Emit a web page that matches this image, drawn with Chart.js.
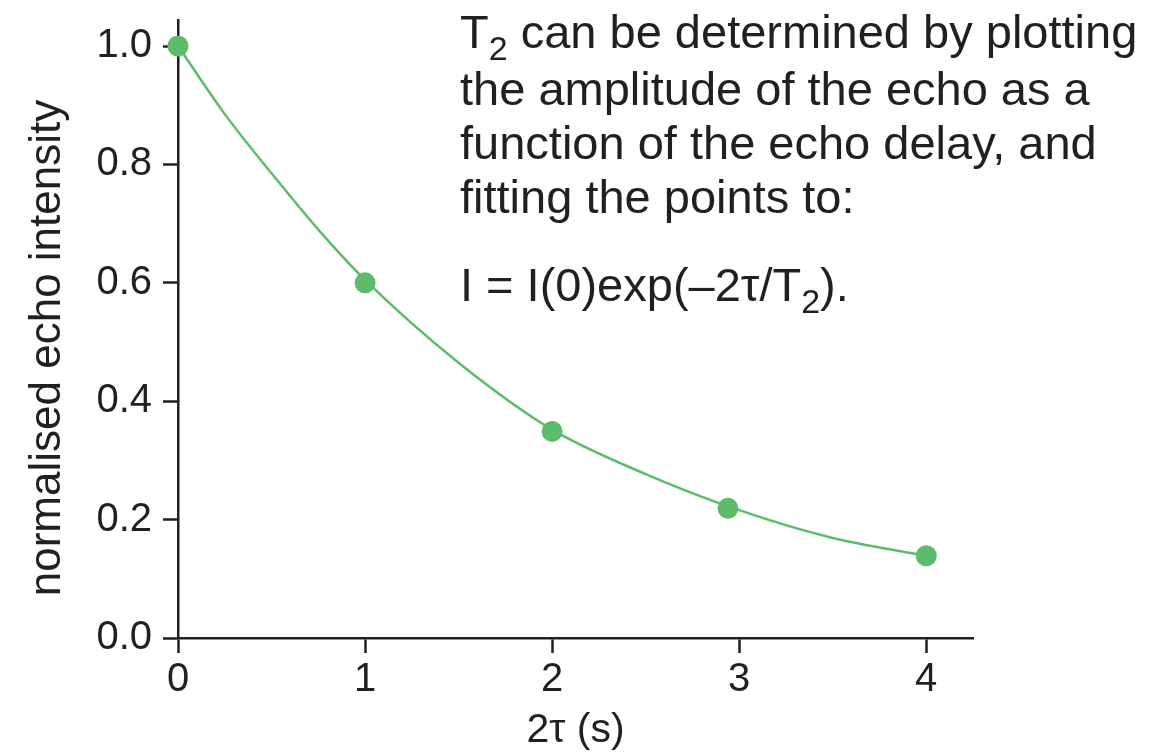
<!DOCTYPE html>
<html>
<head>
<meta charset="utf-8">
<script src="https://cdn.jsdelivr.net/npm/chart.js@4"></script>
<style>
  html, body { margin: 0; padding: 0; background: #ffffff; }
  #wrap { width: 1164px; height: 755px; position: relative; }
</style>
</head>
<body>
<div id="wrap"><canvas id="c" width="1164" height="755"></canvas></div>
<script>
// Measured echo points
const echoDelay = [0, 1, 2, 2.94, 4];
const echoIntensity = [1.0, 0.6, 0.349, 0.219, 0.139];
// Fitted curve, values
const curveDelay = [0, 0.25, 0.5, 0.75, 1, 1.5, 2, 2.5, 3, 3.5, 4];
const curveIntensity = [1.0, 0.885, 0.785, 0.69, 0.605, 0.465, 0.352, 0.277, 0.216, 0.169, 0.139];
// Axis ticks
const xTicks = [0, 1, 2, 3, 4];
const yTicks = [0.0, 0.2, 0.4, 0.6, 0.8, 1.0];
const xTitle = '2τ (s)';
const yTitle = 'normalised echo intensity';
// Annotation text
const noteLines = [
  [['T', false], ['2', true], [' can be determined by plotting', false]],
  [['the amplitude of the echo as a', false]],
  [['function of the echo delay, and', false]],
  [['fitting the points to:', false]],
  [['I = I(0)exp(–2τ/T', false], ['2', true], [').', false]]
];

const GREEN = '#5dbb6c';
const INK = '#231f20';
const FONT = '"Liberation Sans", Arial, Helvetica, sans-serif';

const notePlugin = {
  id: 'note',
  afterDraw(chart) {
    const ctx = chart.ctx;
    ctx.save();
    ctx.fillStyle = INK;
    ctx.textBaseline = 'alphabetic';
    ctx.textAlign = 'left';
    const baselines = [48, 105, 159, 213, 301];
    noteLines.forEach((line, i) => {
      let x = 460;
      const y = baselines[i];
      line.forEach(([txt, sub]) => {
        ctx.font = (sub ? '34px ' : '47px ') + FONT;
        ctx.fillText(txt, x, sub ? y + 12 : y);
        x += ctx.measureText(txt).width;
      });
    });
    // y-axis title, centred on the span it occupies in the reference
    const ya = chart.scales.y;
    ctx.font = '44px ' + FONT;
    ctx.textAlign = 'center';
    ctx.textBaseline = 'middle';
    ctx.translate(48, (ya.top + ya.bottom) / 2 + 19);
    ctx.rotate(-Math.PI / 2);
    ctx.fillText(yTitle, 0, 0);
    ctx.restore();
  }
};

const tickFont = { family: FONT, size: 40 };

new Chart(document.getElementById('c'), {
  type: 'scatter',
  data: {
    datasets: [
      {
        label: 'fit',
        data: curveDelay.map((x, i) => ({ x, y: curveIntensity[i] })),
        showLine: true,
        borderColor: GREEN,
        borderWidth: 2.5,
        pointRadius: 0,
        pointHoverRadius: 0,
        cubicInterpolationMode: 'monotone',
        clip: false,
        order: 2
      },
      {
        label: 'echo',
        data: echoDelay.map((x, i) => ({ x, y: echoIntensity[i] })),
        showLine: false,
        backgroundColor: GREEN,
        borderColor: GREEN,
        borderWidth: 0,
        pointRadius: 10.5,
        pointHoverRadius: 10.5,
        clip: false,
        order: 1
      }
    ]
  },
  options: {
    responsive: false,
    animation: false,
    events: [],
    layout: { padding: { top: 20, right: 191, left: 0, bottom: 0 } },
    plugins: {
      legend: { display: false },
      tooltip: { enabled: false },
      title: { display: false }
    },
    scales: {
      x: {
        type: 'linear',
        z: 1,
        min: 0,
        max: 4.25,
        afterFit(s) { s.height = 117; s.paddingLeft = 0; s.paddingRight = 0; },
        afterBuildTicks(s) { s.ticks = xTicks.map(v => ({ value: v })); },
        ticks: {
          font: tickFont,
          color: INK,
          padding: 3,
          maxRotation: 0,
          callback: v => String(v)
        },
        grid: {
          display: true,
          drawOnChartArea: false,
          drawTicks: true,
          tickLength: 15,
          tickWidth: 2.5,
          tickColor: INK
        },
        border: { display: true, color: INK, width: 2.5 },
        title: {
          display: true,
          text: xTitle,
          color: INK,
          font: { family: FONT, size: 41 },
          padding: { top: 0, bottom: 0 }
        }
      },
      y: {
        type: 'linear',
        z: 1,
        min: 0,
        max: 1.044,
        afterFit(s) { s.width = 178; s.paddingTop = 0; s.paddingBottom = 0; },
        afterBuildTicks(s) { s.ticks = yTicks.map(v => ({ value: v })); },
        ticks: {
          font: tickFont,
          color: INK,
          padding: 11,
          callback: v => Number(v).toFixed(1)
        },
        grid: {
          display: true,
          drawOnChartArea: false,
          drawTicks: true,
          tickLength: 15,
          tickWidth: 2.5,
          tickColor: INK
        },
        border: { display: true, color: INK, width: 2.5 },
        title: { display: false, text: yTitle }
      }
    }
  },
  plugins: [notePlugin]
});
</script>
</body>
</html>
